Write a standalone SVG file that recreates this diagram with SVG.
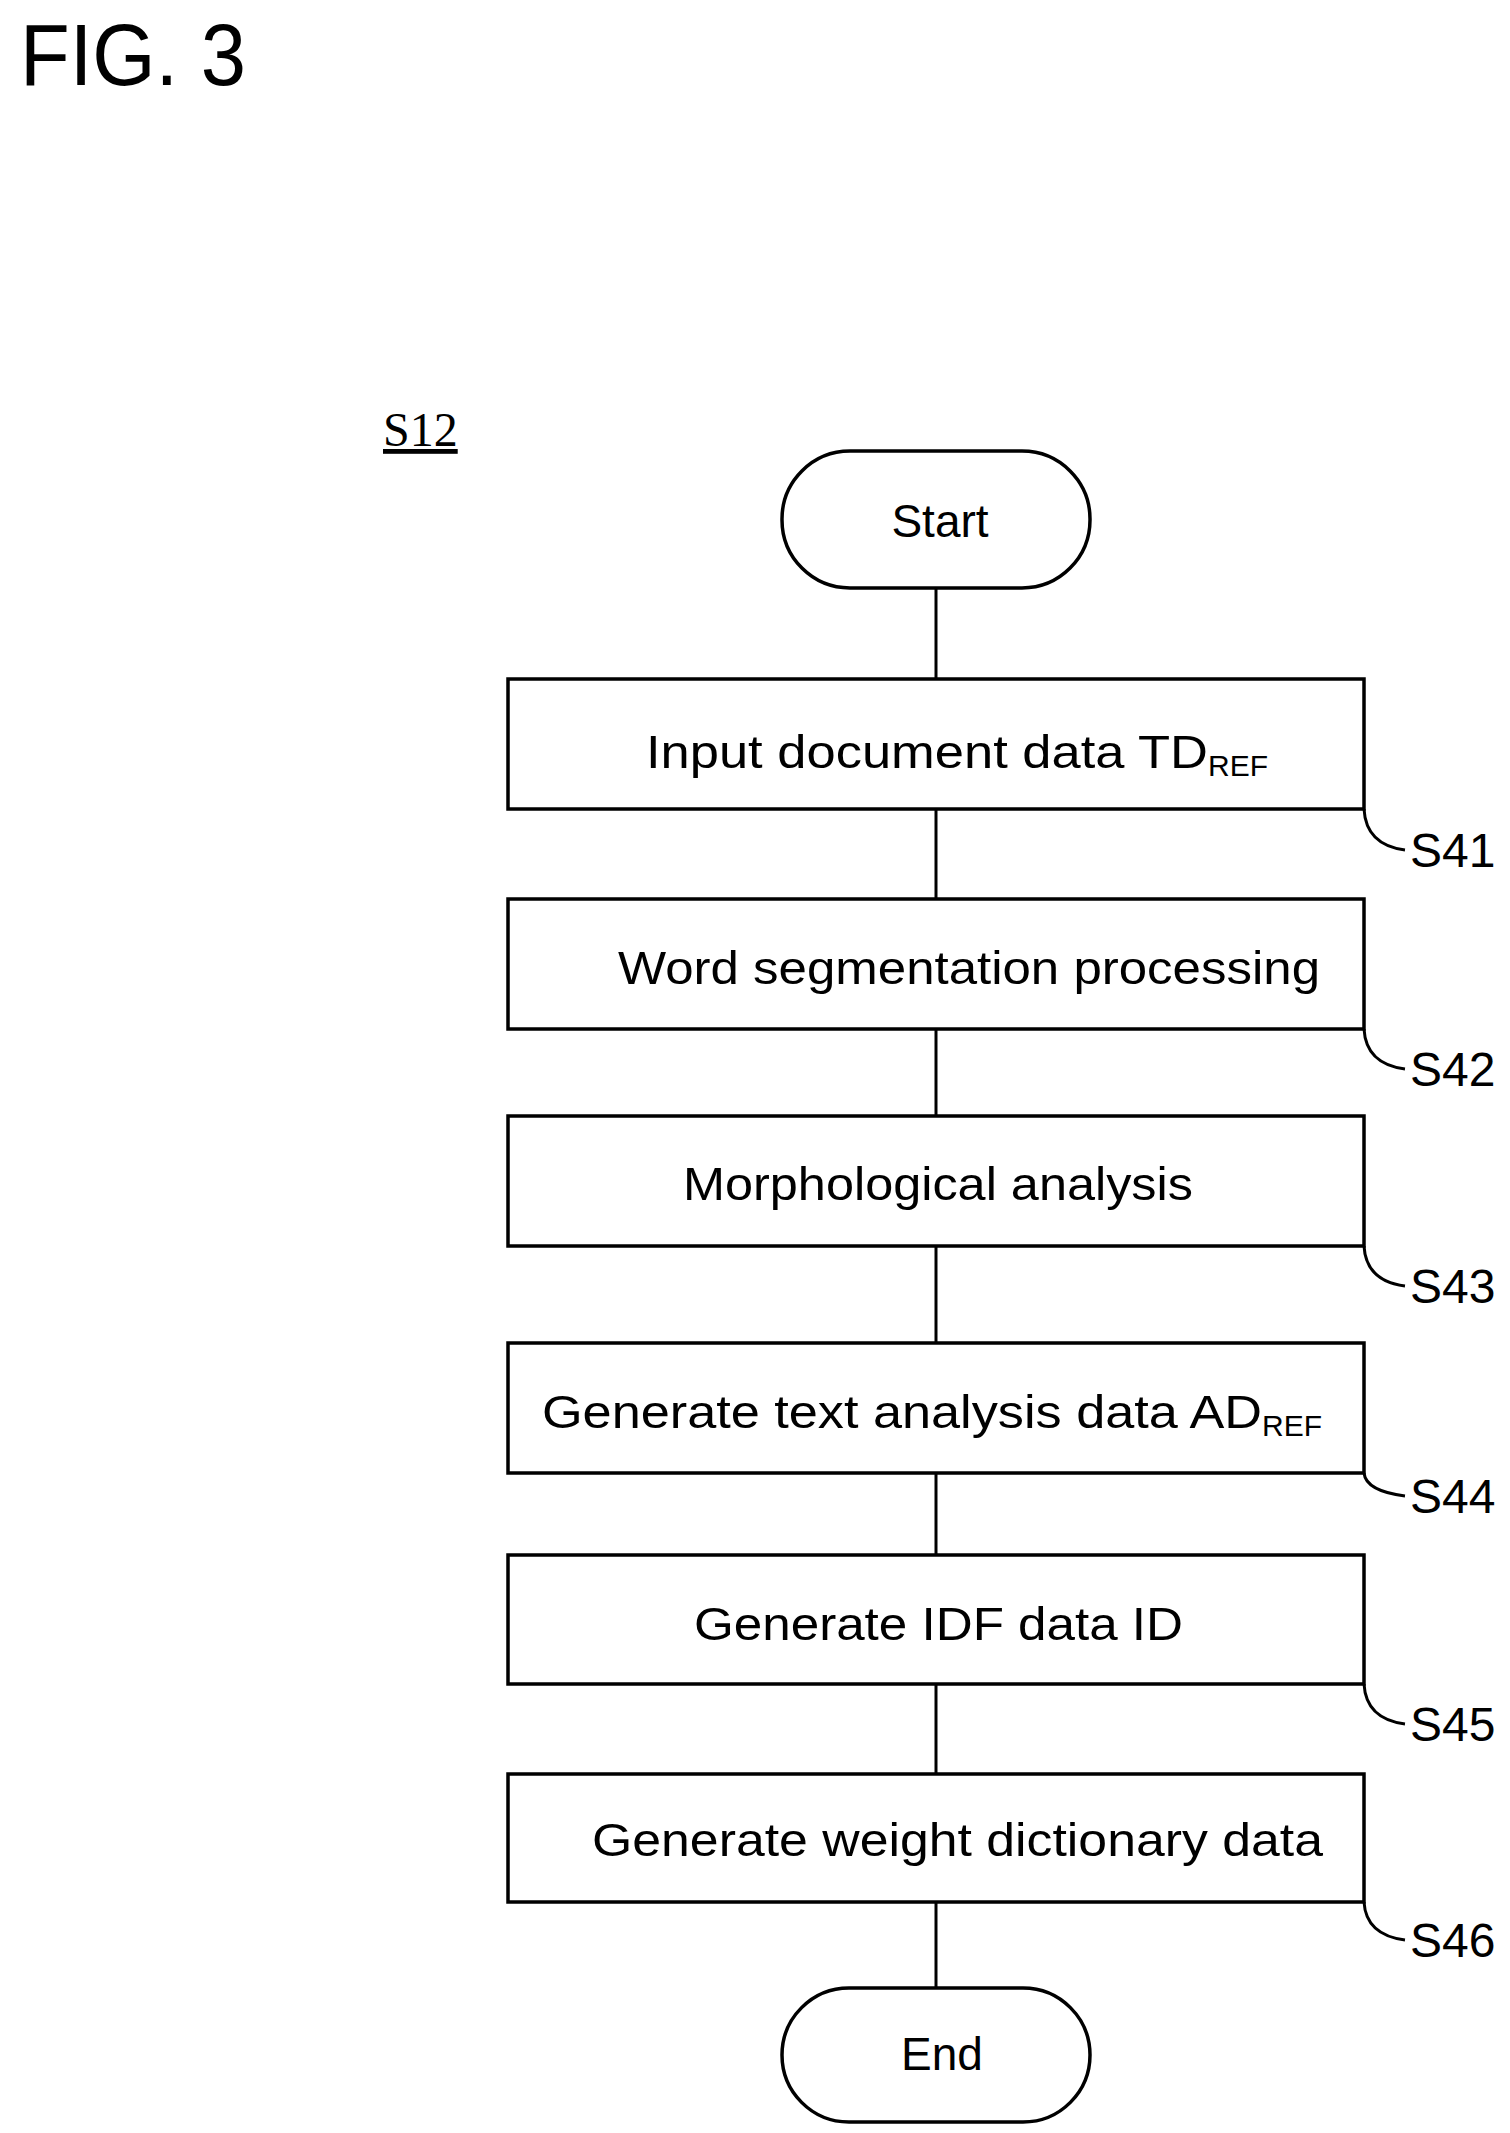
<svg xmlns="http://www.w3.org/2000/svg" width="1510" height="2133" viewBox="0 0 1510 2133">
<style>
.n{fill:#fff;stroke:#000;stroke-width:3.5}
.t{font-family:"Liberation Sans",Arial,sans-serif;font-size:46px;fill:#000}
.s{font-size:30px}
.l{font-family:"Liberation Sans",Arial,sans-serif;font-size:48px;fill:#000}
.c{fill:none;stroke:#000;stroke-width:3}
</style>
<rect width="1510" height="2133" fill="#fff"/>
<text x="20" y="85" font-family="Liberation Sans,Arial,sans-serif" font-size="88" textLength="226" lengthAdjust="spacingAndGlyphs">FIG. 3</text>
<text x="383" y="446" font-family="Liberation Serif,serif" font-size="48" text-decoration="underline">S12</text>
<g id="connectors">
<line class="c" x1="936" y1="588" x2="936" y2="679"/>
<line class="c" x1="936" y1="809" x2="936" y2="899"/>
<line class="c" x1="936" y1="1029" x2="936" y2="1116"/>
<line class="c" x1="936" y1="1246" x2="936" y2="1343"/>
<line class="c" x1="936" y1="1473" x2="936" y2="1555"/>
<line class="c" x1="936" y1="1684" x2="936" y2="1774"/>
<line class="c" x1="936" y1="1902" x2="936" y2="1988"/>
<path class="c" d="M1364 809 Q1366 845 1405 850"/>
<path class="c" d="M1364 1029 Q1366 1064 1405 1069"/>
<path class="c" d="M1364 1246 Q1366 1281 1405 1286"/>
<path class="c" d="M1364 1473 Q1366 1491 1405 1496"/>
<path class="c" d="M1364 1684 Q1366 1719 1405 1724"/>
<path class="c" d="M1364 1902 Q1366 1935 1405 1940"/>
</g>
<g id="start"><rect class="n" x="782" y="451" width="308" height="137" rx="68"/><text class="t" x="940" y="537" text-anchor="middle">Start</text></g>
<g id="s41"><rect class="n" x="508" y="679" width="856" height="130"/><text class="t" x="646" y="768"><tspan textLength="562" lengthAdjust="spacingAndGlyphs">Input document data TD</tspan><tspan class="s" dy="8">REF</tspan></text><text class="l" x="1410" y="867">S41</text></g>
<g id="s42"><rect class="n" x="508" y="899" width="856" height="130"/><text class="t" x="618" y="984" textLength="702" lengthAdjust="spacingAndGlyphs">Word segmentation processing</text><text class="l" x="1410" y="1086">S42</text></g>
<g id="s43"><rect class="n" x="508" y="1116" width="856" height="130"/><text class="t" x="683" y="1200" textLength="510" lengthAdjust="spacingAndGlyphs">Morphological analysis</text><text class="l" x="1410" y="1303">S43</text></g>
<g id="s44"><rect class="n" x="508" y="1343" width="856" height="130"/><text class="t" x="542" y="1428"><tspan textLength="720" lengthAdjust="spacingAndGlyphs">Generate text analysis data AD</tspan><tspan class="s" dy="8">REF</tspan></text><text class="l" x="1410" y="1513">S44</text></g>
<g id="s45"><rect class="n" x="508" y="1555" width="856" height="129"/><text class="t" x="694" y="1640" textLength="489" lengthAdjust="spacingAndGlyphs">Generate IDF data ID</text><text class="l" x="1410" y="1741">S45</text></g>
<g id="s46"><rect class="n" x="508" y="1774" width="856" height="128"/><text class="t" x="592" y="1856" textLength="731" lengthAdjust="spacingAndGlyphs">Generate weight dictionary data</text><text class="l" x="1410" y="1957">S46</text></g>
<g id="end"><rect class="n" x="782" y="1988" width="308" height="134" rx="67"/><text class="t" x="942" y="2070" text-anchor="middle">End</text></g>
</svg>
